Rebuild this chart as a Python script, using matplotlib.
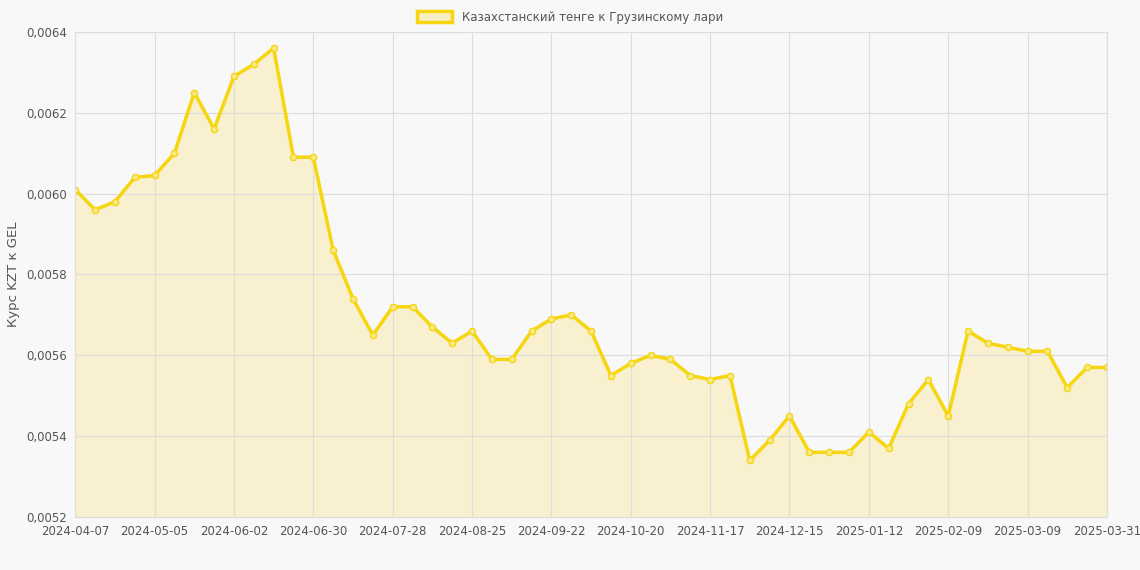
import matplotlib
matplotlib.use("Agg")
import matplotlib.pyplot as plt
from matplotlib.patches import Patch
import datetime as dt

start = dt.date(2024, 4, 7)
dates = [(start + dt.timedelta(weeks=i)).isoformat() for i in range(52)] + ["2025-03-31"]
values = [0.00601, 0.00596, 0.00598, 0.00604, 0.006045, 0.00610, 0.00625, 0.00616, 0.00629, 0.00632,
          0.00636, 0.00609, 0.00609, 0.00586, 0.00574, 0.00565, 0.00572, 0.00572, 0.00567, 0.00563,
          0.00566, 0.00559, 0.00559, 0.00566, 0.00569, 0.00570, 0.00566, 0.00555, 0.00558, 0.00560,
          0.00559, 0.00555, 0.00554, 0.00555, 0.00534, 0.00539, 0.00545, 0.00536, 0.00536, 0.00536,
          0.00541, 0.00537, 0.00548, 0.00554, 0.00545, 0.00566, 0.00563, 0.00562, 0.00561, 0.00561,
          0.00552, 0.00557, 0.00557]
yticks = [0.0052, 0.0054, 0.0056, 0.0058, 0.0060, 0.0062, 0.0064]

bg = "#f8f8f8"
fig = plt.figure(figsize=(11.4, 5.7), dpi=100, facecolor=bg)
ax = fig.add_axes([0.066, 0.093, 0.905, 0.851], facecolor=bg)
x = list(range(len(values)))
ax.fill_between(x, values, 0.0052, color="#f8efc4", alpha=0.8, lw=0)
ax.plot(x, values, color="#f5d60f", lw=2.5, marker="o", ms=4.5, mfc="#f8e88a", mec="#f5d60f", mew=1)
ax.set_xlim(0, len(values) - 1)
ax.set_ylim(0.0052, 0.0064)
ax.set_yticks(yticks)
ax.set_yticklabels([f"{v:.4f}".replace(".", ",") for v in yticks])
tx = list(range(0, len(values), 4))
ax.set_xticks(tx)
ax.set_xticklabels([dates[i] for i in tx])
ax.grid(True, color="#dddddd", lw=0.8)
for s in ax.spines.values():
    s.set_color("#dddddd")
ax.tick_params(colors="#666666", labelsize=8.5, length=0, pad=6)
for t in ax.get_xticklabels() + ax.get_yticklabels():
    t.set_color("#555555")
ax.set_ylabel("Курс KZT к GEL", color="#555555", fontsize=9.5)
leg = fig.legend(handles=[Patch(facecolor="#f8efc4", edgecolor="#f5d60f", lw=2.5,
                                label="Казахстанский тенге к Грузинскому лари")],
                 loc="upper center", bbox_to_anchor=(0.5, 1.0), frameon=False, fontsize=8.5,
                 handlelength=3, handleheight=1)
for t in leg.get_texts():
    t.set_color("#555555")
fig.savefig("out.png", facecolor=bg)
